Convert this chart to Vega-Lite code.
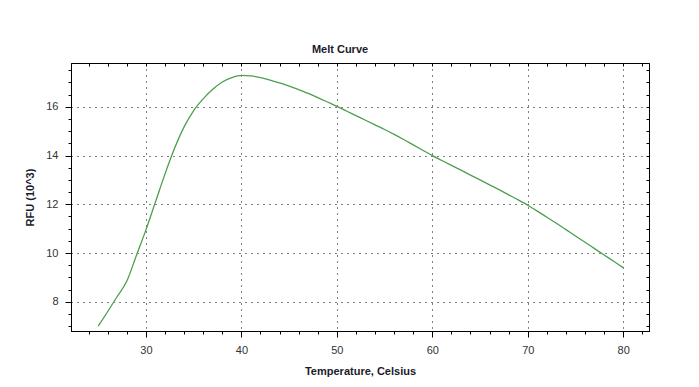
{
  "$schema": "https://vega.github.io/schema/vega-lite/v6.json",
  "width": 578,
  "height": 268,
  "autosize": {"type": "none"},
  "padding": {"left": 71, "top": 63, "right": 50, "bottom": 56},
  "background": "white",
  "title": {"text": "Melt Curve", "font": "Liberation Sans", "fontSize": 11, "fontWeight": "bold", "color": "#1a1a2a", "offset": 8, "dx": -20, "anchor": "middle", "frame": "group"},
  "config": {
    "view": {"stroke": "black", "strokeWidth": 1},
    "axis": {
      "domainColor": "black",
      "tickColor": "black",
      "tickWidth": 1,
      "labelFont": "Liberation Sans",
      "labelFontSize": 11,
      "labelColor": "#333333",
      "titleFont": "Liberation Sans",
      "titleFontSize": 11,
      "titleFontWeight": "bold",
      "titleColor": "#1a1a2a",
      "labelOverlap": false,
      "labelFlush": false
    }
  },
  "data": {"values": [
    {"t": 25, "rfu": 7.0}, {"t": 26, "rfu": 7.6}, {"t": 27, "rfu": 8.22}, {"t": 28, "rfu": 8.85},
    {"t": 29, "rfu": 9.9}, {"t": 30, "rfu": 10.95}, {"t": 31, "rfu": 12.1}, {"t": 32, "rfu": 13.25},
    {"t": 33, "rfu": 14.3}, {"t": 34, "rfu": 15.18}, {"t": 35, "rfu": 15.85}, {"t": 36, "rfu": 16.33},
    {"t": 37, "rfu": 16.72}, {"t": 38, "rfu": 17.02}, {"t": 39, "rfu": 17.2}, {"t": 40, "rfu": 17.29},
    {"t": 41, "rfu": 17.27}, {"t": 42, "rfu": 17.2}, {"t": 43, "rfu": 17.1}, {"t": 44, "rfu": 16.98},
    {"t": 45, "rfu": 16.85}, {"t": 46, "rfu": 16.71}, {"t": 47, "rfu": 16.55}, {"t": 48, "rfu": 16.38},
    {"t": 49, "rfu": 16.2}, {"t": 50, "rfu": 16.02}, {"t": 51, "rfu": 15.83}, {"t": 52, "rfu": 15.64},
    {"t": 53, "rfu": 15.45}, {"t": 54, "rfu": 15.26}, {"t": 55, "rfu": 15.07}, {"t": 56, "rfu": 14.87},
    {"t": 57, "rfu": 14.66}, {"t": 58, "rfu": 14.44}, {"t": 59, "rfu": 14.22}, {"t": 60, "rfu": 14.0},
    {"t": 61, "rfu": 13.8}, {"t": 62, "rfu": 13.6}, {"t": 63, "rfu": 13.4}, {"t": 64, "rfu": 13.2},
    {"t": 65, "rfu": 13.0}, {"t": 66, "rfu": 12.8}, {"t": 67, "rfu": 12.6}, {"t": 68, "rfu": 12.39},
    {"t": 69, "rfu": 12.18}, {"t": 70, "rfu": 11.96}, {"t": 71, "rfu": 11.72}, {"t": 72, "rfu": 11.47},
    {"t": 73, "rfu": 11.22}, {"t": 74, "rfu": 10.96}, {"t": 75, "rfu": 10.7}, {"t": 76, "rfu": 10.44},
    {"t": 77, "rfu": 10.18}, {"t": 78, "rfu": 9.92}, {"t": 79, "rfu": 9.66}, {"t": 80, "rfu": 9.4}
  ]},
  "layer": [
    {
      "mark": {"type": "line", "color": "#4e9e4e", "strokeWidth": 1.3, "interpolate": "monotone", "clip": true},
      "encoding": {
        "x": {
          "field": "t", "type": "quantitative",
          "scale": {"domain": [22.15, 82.7], "nice": false, "zero": false},
          "axis": {
            "orient": "bottom",
            "title": "Temperature, Celsius",
            "titleY": 40, "titleBaseline": "middle",
            "values": [22,24,26,28,30,32,34,36,38,40,42,44,46,48,50,52,54,56,58,60,62,64,66,68,70,72,74,76,78,80,82],
            "labelExpr": "datum.value % 10 === 0 ? format(datum.value, 'd') : ''",
            "tickSize": {"condition": {"test": "datum.value % 10 === 0", "value": 6}, "value": 3},
            "labelPadding": 7,
            "grid": true,
            "gridColor": "black",
            "gridDash": [1, 5],
            "gridWidth": 1,
            "gridOpacity": {"condition": {"test": "datum.value % 10 === 0", "value": 1}, "value": 0}
          }
        },
        "y": {
          "field": "rfu", "type": "quantitative",
          "scale": {"domain": [6.8, 17.8], "nice": false, "zero": false},
          "axis": {
            "orient": "left",
            "title": "RFU (10^3)",
            "titleX": -41, "titleY": 134, "titleBaseline": "middle", "titleAngle": 270,
            "values": [7,7.5,8,8.5,9,9.5,10,10.5,11,11.5,12,12.5,13,13.5,14,14.5,15,15.5,16,16.5,17,17.5],
            "labelExpr": "datum.value % 2 === 0 ? format(datum.value, 'd') : ''",
            "tickSize": {"condition": {"test": "datum.value % 2 === 0", "value": 6}, "value": 3},
            "labelPadding": 7,
            "grid": true,
            "gridColor": "black",
            "gridDash": [1, 5],
            "gridWidth": 1,
            "gridOpacity": {"condition": {"test": "datum.value % 2 === 0", "value": 1}, "value": 0}
          }
        }
      }
    },
    {
      "mark": {"type": "line", "strokeOpacity": 0},
      "encoding": {
        "x": {
          "field": "t", "type": "quantitative",
          "axis": {
            "orient": "top", "title": null, "labels": false, "grid": false,
            "values": [22,24,26,28,30,32,34,36,38,40,42,44,46,48,50,52,54,56,58,60,62,64,66,68,70,72,74,76,78,80,82],
            "tickSize": -3
          }
        },
        "y": {
          "field": "rfu", "type": "quantitative",
          "axis": {
            "orient": "right", "title": null, "labels": false, "grid": false,
            "values": [7,7.5,8,8.5,9,9.5,10,10.5,11,11.5,12,12.5,13,13.5,14,14.5,15,15.5,16,16.5,17,17.5],
            "tickSize": -3
          }
        }
      }
    }
  ],
  "resolve": {"axis": {"x": "independent", "y": "independent"}}
}
